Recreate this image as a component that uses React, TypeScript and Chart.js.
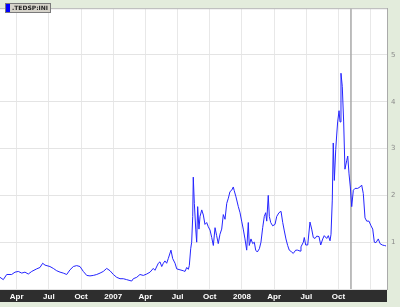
import React, { useEffect, useRef } from "react";
import { Chart, registerables } from "chart.js";

Chart.register(...registerables);

// x = months since Jan 2006 (fractional), y = TED spread (%)
const months: number[] = [
  1.44, 1.75, 2.07, 2.53, 2.84, 3.15, 3.47, 3.77, 4.08, 4.40, 4.86, 5.17, 5.42, 5.64,
  6.10, 6.41, 6.73, 7.04, 7.34, 7.66, 7.97, 8.28, 8.59, 8.90, 9.21, 9.53, 9.83, 10.14,
  10.46, 10.77, 11.07, 11.39, 11.70, 12.01, 12.32, 12.63, 12.94, 13.25, 13.56, 13.72,
  13.87, 14.19, 14.49, 14.80, 15.12, 15.43, 15.73, 15.89, 16.20, 16.36, 16.52, 16.67,
  16.82, 16.98, 17.13, 17.38, 17.54, 17.76, 17.92, 18.22, 18.53, 18.69, 18.85, 19.00,
  19.09, 19.22, 19.31, 19.41, 19.46, 19.56, 19.69, 19.78, 19.87, 19.99, 20.09, 20.25,
  20.40, 20.55, 20.71, 20.86, 21.02, 21.18, 21.33, 21.49, 21.64, 21.79, 21.95, 22.11,
  22.26, 22.42, 22.58, 22.73, 22.88, 23.04, 23.19, 23.28, 23.44, 23.66, 23.82, 23.97,
  24.12, 24.28, 24.44, 24.59, 24.68, 24.84, 25.00, 25.15, 25.28, 25.43, 25.62, 25.77,
  25.93, 26.08, 26.21, 26.31, 26.45, 26.55, 26.68, 26.86, 27.08, 27.24, 27.45, 27.64,
  27.80, 27.95, 28.10, 28.26, 28.41, 28.64, 28.78, 29.01, 29.20, 29.41, 29.50, 29.72,
  29.81, 29.94, 30.13, 30.34, 30.50, 30.65, 30.81, 30.97, 31.18, 31.34, 31.53, 31.67,
  31.90, 32.05, 32.21, 32.30, 32.42, 32.51, 32.61, 32.74, 32.83, 32.92, 33.05, 33.14,
  33.23, 33.35, 33.48, 33.60, 33.76, 33.86, 33.98, 34.10, 34.23, 34.38, 34.54, 34.79,
  35.00, 35.16, 35.31, 35.47, 35.63, 35.84, 36.03, 36.19, 36.34, 36.49, 36.71, 36.87,
  37.08, 37.27, 37.43,
];

const tedSpread: number[] = [
  0.25, 0.20, 0.31, 0.31, 0.36, 0.375, 0.34, 0.36, 0.32, 0.375, 0.43, 0.46, 0.55, 0.51,
  0.48, 0.44, 0.39, 0.36, 0.34, 0.31, 0.41, 0.48, 0.50, 0.48, 0.375, 0.29, 0.28, 0.29,
  0.31, 0.34, 0.375, 0.44, 0.39, 0.31, 0.25, 0.22, 0.22, 0.20, 0.18, 0.17,
  0.22, 0.25, 0.31, 0.29, 0.32, 0.36, 0.44, 0.40, 0.55, 0.58, 0.48, 0.55,
  0.60, 0.55, 0.65, 0.83, 0.65, 0.55, 0.43, 0.41, 0.39, 0.375, 0.46, 0.42,
  0.50, 0.86, 1.00, 1.55, 2.39, 1.83, 1.28, 1.00, 1.76, 1.28, 1.55, 1.69,
  1.58, 1.38, 1.42, 1.33, 1.26, 1.10, 0.93, 1.31, 1.14, 0.97, 1.17, 1.28,
  1.59, 1.49, 1.83, 1.94, 2.08, 2.11, 2.18, 2.10, 1.97, 1.76, 1.63, 1.45,
  1.28, 1.07, 0.83, 1.42, 0.93, 1.07, 0.97, 1.00, 0.83, 0.79, 0.86, 1.00,
  1.31, 1.55, 1.63, 1.45, 2.00, 1.55, 1.42, 1.35, 1.38, 1.55, 1.63, 1.66,
  1.42, 1.24, 1.07, 0.93, 0.83, 0.79, 0.76, 0.83, 0.83, 0.81, 0.90, 1.00,
  1.10, 0.94, 0.94, 1.43, 1.28, 1.10, 1.08, 1.13, 1.12, 0.94, 1.07, 1.14,
  1.08, 1.14, 1.03, 1.17, 1.90, 3.12, 2.32, 2.98, 3.29, 3.57, 3.81, 3.57,
  4.61, 4.33, 3.57, 2.56, 2.74, 2.84, 2.46, 2.18, 1.76, 2.11, 2.15, 2.15,
  2.18, 2.22, 2.04, 1.52, 1.45, 1.45, 1.35, 1.28, 1.00, 0.99, 1.07, 0.97,
  0.94, 0.93, 0.92,
];

const quarterTicks: number[] = [3, 6, 9, 12, 15, 18, 21, 24, 27, 30, 33, 36];
const quarterNames: string[] = ["2006", "Apr", "Jul", "Oct"];
const unlabeledTicks: number[] = [36];
const yTickValues: number[] = [1, 2, 3, 4, 5];
const markerMonth = 34.16;
const legendLabel = ".TEDSP:INI";
const X_MIN = 1.443;
const X_MAX = 37.52;

const bgPlugin = {
  id: "bgPlugin",
  beforeDraw(chart: any) {
    const { ctx, chartArea } = chart;
    ctx.save();
    ctx.fillStyle = "#e3ecdc";
    ctx.fillRect(0, 0, chart.width, chart.height);
    ctx.fillStyle = "#ffffff";
    ctx.fillRect(chartArea.left, chartArea.top, chartArea.right - chartArea.left, chartArea.bottom - chartArea.top);
    ctx.fillStyle = "#2e2e2e";
    ctx.fillRect(chartArea.left, chartArea.bottom, chartArea.right - chartArea.left, 13);
    ctx.restore();
  },
  beforeDatasetsDraw(chart: any) {
    const { ctx, chartArea, scales } = chart;
    const x = scales.x.getPixelForValue(markerMonth);
    ctx.save();
    ctx.strokeStyle = "#a8a8a8";
    ctx.lineWidth = 1.5;
    ctx.beginPath();
    ctx.moveTo(x, chartArea.top);
    ctx.lineTo(x, chartArea.bottom);
    ctx.stroke();
    ctx.strokeStyle = "#b8b8b8";
    ctx.lineWidth = 1;
    ctx.beginPath();
    ctx.moveTo(chartArea.left, chartArea.top + 0.5);
    ctx.lineTo(chartArea.right, chartArea.top + 0.5);
    ctx.stroke();
    ctx.restore();
  },
  afterDraw(chart: any) {
    const { ctx } = chart;
    ctx.save();
    ctx.fillStyle = "#d6d3ca";
    ctx.fillRect(5, 3, 46, 10);
    ctx.strokeStyle = "#7a7a7a";
    ctx.lineWidth = 1;
    ctx.strokeRect(5.5, 3.5, 45, 9);
    ctx.fillStyle = "#0000ff";
    ctx.fillRect(6, 4, 4, 8);
    ctx.fillStyle = "#222222";
    ctx.font = "bold 6px 'DejaVu Sans'";
    ctx.textBaseline = "middle";
    ctx.fillText(legendLabel, 12, 8.5);
    ctx.restore();
  },
};

export default function App() {
  const canvasRef = useRef<HTMLCanvasElement | null>(null);

  useEffect(() => {
    document.body.style.margin = "0";
    const canvas = canvasRef.current;
    if (!canvas) return;
    const chart = new Chart(canvas, {
      type: "line",
      data: {
        datasets: [
          {
            label: legendLabel,
            data: months.map((m, i) => ({ x: m, y: tedSpread[i] })),
            borderColor: "#2525ff",
            borderWidth: 1,
            pointRadius: 0,
            tension: 0,
            fill: false,
          },
        ],
      },
      options: {
        animation: false,
        responsive: false,
        devicePixelRatio: 1,
        layout: { padding: { left: 0, top: 0, right: 0, bottom: 5 } },
        plugins: { legend: { display: false }, tooltip: { enabled: false } },
        scales: {
          x: {
            type: "linear",
            min: X_MIN,
            max: X_MAX,
            afterBuildTicks: (scale: any) => {
              scale.ticks = quarterTicks.map((v) => ({ value: v }));
            },
            afterFit: (scale: any) => {
              scale.height = 13;
            },
            grid: { color: "#e8e8e8", drawTicks: false },
            border: { display: false },
            ticks: {
              color: "#ffffff",
              font: { family: "'Liberation Sans', Arial", size: 8, weight: "bold" },
              padding: 3,
              maxRotation: 0,
              autoSkip: false,
              callback: (v: any) => {
                const m = Number(v);
                if (unlabeledTicks.includes(m)) return "";
                const q = (m % 12) / 3;
                if (q === 0) return String(2006 + m / 12);
                return quarterNames[q];
              },
            },
          },
          y: {
            position: "right",
            min: 0,
            max: 6,
            afterBuildTicks: (scale: any) => {
              scale.ticks = [0, ...yTickValues, 6].map((v) => ({ value: v }));
            },
            afterFit: (scale: any) => {
              scale.width = 13;
            },
            grid: { color: "#e4e4e4", drawTicks: false },
            border: { display: true, color: "#aaaaaa" },
            ticks: {
              color: "#8a8a8a",
              font: { family: "'DejaVu Sans'", size: 7 },
              padding: 4,
              callback: (v: any) => (yTickValues.includes(Number(v)) ? String(v) : ""),
            },
          },
        },
      },
      plugins: [bgPlugin],
    });
    return () => chart.destroy();
  }, []);

  return (
    <div style={{ position: "absolute", left: 0, top: 0, width: 400, height: 307 }}>
      <canvas ref={canvasRef} width={400} height={307} style={{ width: 400, height: 307 }} />
    </div>
  );
}
